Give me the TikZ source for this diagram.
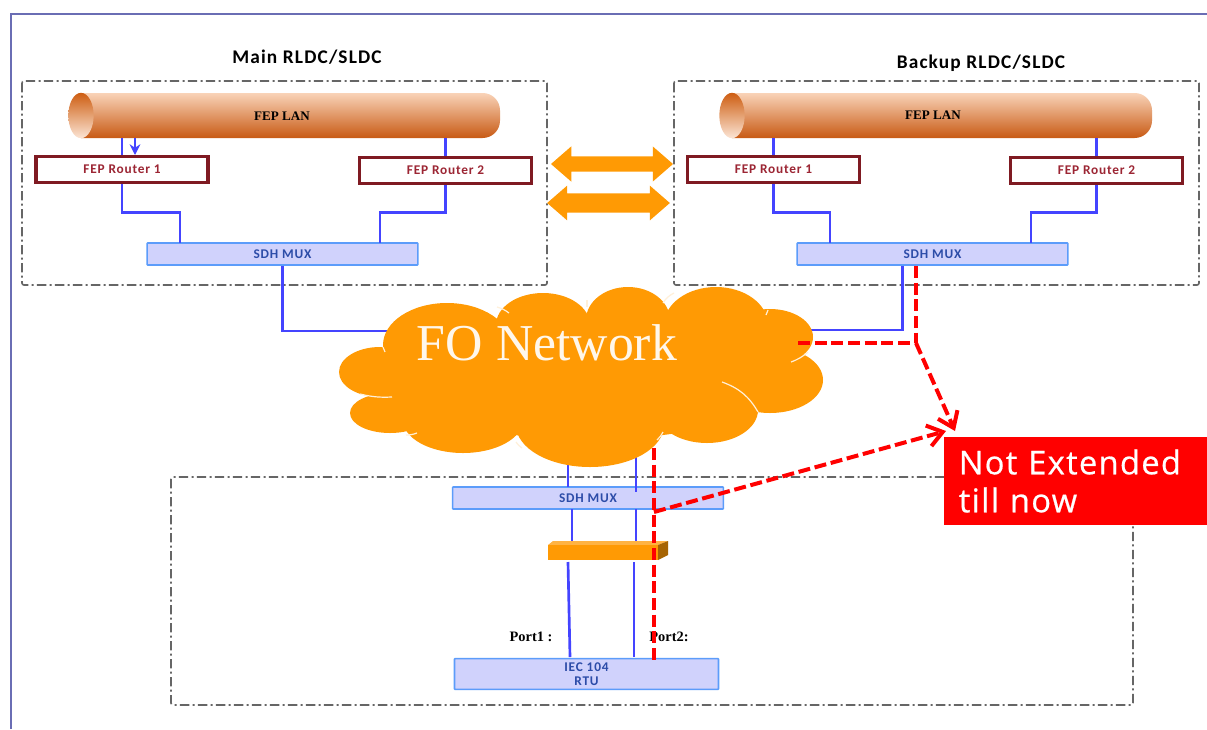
\documentclass[tikz,border=0pt]{standalone}
\usepackage{fontspec}
\setmainfont{Carlito}
\newfontfamily\serifface{Liberation Serif}
\newfontfamily\labelface[LetterSpace=4,FakeBold=0.6]{Open Sans}
\newfontfamily\spacedface[LetterSpace=6]{Carlito}
\usepackage{xcolor}
\usepackage{tikz}
\usetikzlibrary{calc}
\usetikzlibrary{arrows.meta}
\usetikzlibrary{shapes,shapes.geometric,shapes.arrows}

\definecolor{frameblue}{HTML}{6A6DB4}
\definecolor{linkblue}{HTML}{4444FF}
\definecolor{muxfill}{HTML}{D0D2FC}
\definecolor{muxline}{HTML}{5C9CFA}
\definecolor{muxtext}{HTML}{2C4CA8}
\definecolor{routerline}{HTML}{7F1A22}
\definecolor{routertext}{HTML}{9C2634}
\definecolor{foorange}{HTML}{FF9A04}
\definecolor{notered}{HTML}{FF0000}
\definecolor{pipetop}{HTML}{F9D3B8}
\definecolor{pipemid}{HTML}{EFA072}
\definecolor{pipelow}{HTML}{C85A14}

\tikzset{
  sitebox/.style={draw=black!60, line width=1.2pt, dash pattern=on 7pt off 2.5pt on 1.5pt off 2.5pt, rounded corners=1.5pt},
  routerbox/.style={rectangle, draw=routerline, line width=2.4pt, fill=white, minimum width=129pt, minimum height=19pt, inner sep=0pt, text=routertext, font=\spacedface\bfseries\fontsize{10}{12}\selectfont},
  muxbox/.style={rectangle, draw=muxline, line width=1.2pt, fill=muxfill, rounded corners=0.5pt, minimum width=203pt, minimum height=16.5pt, inner sep=0pt, text=muxtext, font=\spacedface\bfseries\fontsize{10}{12}\selectfont},
  lanpipe/.style={top color=pipetop, middle color=pipemid, bottom color=pipelow},
  lanspan/.style={rectangle, minimum height=34pt, inner sep=0pt},
  lanend/.style={ellipse, minimum width=19pt, minimum height=34pt, inner sep=0pt, top color=pipelow!90!orange, bottom color=pipetop!60!white},
  lantext/.style={inner sep=0pt, font=\serifface\bfseries\fontsize{9.8}{11}\selectfont},
  link/.style={draw=linkblue, line width=2pt},
  notelink/.style={draw=notered, line width=3.6pt, dash pattern=on 9pt off 3.5pt},
  noteray/.style={draw=notered, line width=3pt, dash pattern=on 9pt off 3.5pt, -{Straight Barb[length=11pt,width=16pt,line width=3pt]}},
  twoway/.style={double arrow, fill=foorange, double arrow tip angle=82, double arrow head indent=0pt},
  lobe/.style={fill=foorange},
  crease/.style={draw=white!85!foorange, line width=0.9pt},
  titletext/.style={font=\spacedface\bfseries\fontsize{14.5}{17}\selectfont},
  porttext/.style={font=\serifface\bfseries\fontsize{10.8}{12}\selectfont}
}

\begin{document}
\begin{tikzpicture}[x=0.75pt, y=-0.75pt]
        \useasboundingbox (0,0) rectangle (1207,729);
        \fill[white] (0,0) rectangle (1207,729);

        % Outer frame
        \draw[frameblue, line width=1.5pt] (11,729) -- (11,14) -- (1207,14);

        % Site frames
        \draw[sitebox] (22,81) rectangle (547,285);
        \draw[sitebox] (674,81) rectangle (1199,285);
        \draw[sitebox] (171,477) rectangle (1133,705);

        % Titles
        \draw (307,57) node(maintitle) [titletext] {Main RLDC/SLDC};
        \draw (981,63) node(backuptitle) [titletext] {Backup RLDC/SLDC};

        % Main site
        \shade[lanpipe] (81,93) [rounded corners=13pt] -- (500,93) -- (500,138) [sharp corners] -- (81,138) -- cycle;
        \draw (290.5,115.5) node(lanmain) [lanspan, minimum width=314pt] {};
        \draw (81,115.5) node(lanmainend) [lanend] {};
        \draw (282,116) node(lanmaintext) [lantext] {FEP LAN};
        \draw (122,169.5) node(routermaina) [routerbox] {FEP Router 1};
        \draw (445.5,170.5) node(routermainb) [routerbox] {FEP Router 2};
        \draw (282.5,254) node(muxmain) [muxbox] {SDH MUX};

        % Backup site
        \shade[lanpipe] (732,93) [rounded corners=13pt] -- (1152,93) -- (1152,138) [sharp corners] -- (732,138) -- cycle;
        \draw (942,115.5) node(lanbackup) [lanspan, minimum width=315pt] {};
        \draw (732,115.5) node(lanbackupend) [lanend] {};
        \draw (933,115) node(lanbackuptext) [lantext] {FEP LAN};
        \draw (773.5,169.5) node(routerbackupa) [routerbox] {FEP Router 1};
        \draw (1096.5,170.5) node(routerbackupb) [routerbox] {FEP Router 2};
        \draw (932.5,254) node(muxbackup) [muxbox] {SDH MUX};

        % Remote site
        \draw (588,498) node(muxsite) [muxbox] {SDH MUX};
        \draw (586.5,674) node(rtusite) [muxbox, minimum width=198pt, minimum height=23pt, align=center, font=\spacedface\bfseries\fontsize{10}{10.5}\selectfont] {IEC 104\\RTU};
        \fill[foorange!75!white] (548,545) -- (553,541) -- (668,541) -- (658,545) -- cycle;
        \fill[foorange!65!black] (658,545) -- (668,541) -- (668,555) -- (658,560) -- cycle;
        \draw (603,552.5) node(switchsite) [rectangle, fill=foorange, minimum width=82.5pt, minimum height=11pt, inner sep=0pt] {};
        \draw (531,637) node(portone) [porttext] {Port1 :};
        \draw (669,637) node(porttwo) [porttext] {Port2:};

        % Between the sites
        \draw (612,164) node(twowaya) [twoway, inner ysep=5.6pt, inner xsep=0pt, minimum height=91.5pt, double arrow head extend=7.4pt] {};
        \draw (608.5,203) node(twowayb) [twoway, inner ysep=7pt, inner xsep=0pt, minimum height=92pt, double arrow head extend=5.8pt] {};

        % Free ends
        \coordinate (mainalink) at (180,243);
        \coordinate (mainblink) at (380,243);
        \coordinate (backupalink) at (830,243);
        \coordinate (backupblink) at (1031,243);
        \coordinate (cloudwest) at (420,331);
        \coordinate (cloudeast) at (780,330);
        \coordinate (cloudporta) at (568,440);
        \coordinate (cloudportb) at (636,440);

        % Edges
        \draw[link] (routermaina.north) -- (routermaina.north |- lanmain.south);
        \draw[link] (routermainb.north) -- (routermainb.north |- lanmain.south);
        \draw[link, -{Stealth[length=8pt,width=8pt]}] (135,138) -- (135,155);
        \draw[link] (routermaina.south) -- ++(0,29) -| (mainalink);
        \draw[link] (routermainb.south) -- ++(0,28) -| (mainblink);
        \draw[link] (routerbackupa.north) -- (routerbackupa.north |- lanbackup.south);
        \draw[link] (routerbackupb.north) -- (routerbackupb.north |- lanbackup.south);
        \draw[link] (routerbackupa.south) -- ++(0,29) -| (backupalink);
        \draw[link] (routerbackupb.south) -- ++(0,28) -| (backupblink);
        \draw[link] (muxmain.south) |- (cloudwest);
        \draw[link] ($(muxbackup.south)+(-30,0)$) |- (cloudeast);
        \draw[link] (cloudporta) -- (568,487);
        \draw[link] (cloudportb) -- (636,492);
        \draw[link] (572,509) -- (572,541);
        \draw[link] (636,509) -- (636,541);
        \draw[link] (568,562) -- (570,657);
        \draw[link] (634,562) -- (634,657);

        % Cloud
        \fill[lobe] (395,355) -- (600,320) -- (790,350) -- (770,400) -- (700,430) -- (590,445) -- (440,425) -- (380,400) -- cycle;
        \fill[lobe] (447,345) ellipse (64 and 42);
        \fill[lobe] (543,325) ellipse (47 and 32);
        \fill[lobe] (628,320) ellipse (42 and 33);
        \fill[lobe] (716,325) ellipse (52 and 38);
        \fill[lobe] (770,337) ellipse (43 and 28);
        \fill[lobe] (770,380) ellipse (53 and 33);
        \fill[lobe] (707,410) ellipse (51 and 33);
        \fill[lobe] (590,425) ellipse (74 and 42);
        \fill[lobe] (463,420) ellipse (60 and 33);
        \fill[lobe] (390,413) ellipse (40 and 20);
        \fill[lobe] (380,372) ellipse (41 and 25);
        \draw[crease] (497,307) to[bend left=10] (509,313);
        \draw[crease] (587,300) -- (587,307);
        \draw[crease] (663,303) to[bend left=15] (674,293);
        \draw[crease] (768,310) -- (766,315);
        \draw[crease] (808,352) to[bend left=10] (791,362);
        \draw[crease] (722,382) to[bend left=20] (758,412);
        \draw[crease] (663,432) to[bend left=10] (657,440);
        \draw[crease] (516,442) to[bend right=10] (522,448);
        \draw[crease] (406,435) to[bend right=10] (417,433);
        \draw[crease] (360,394) to[bend right=8] (392,397);
        \draw[crease] (383,347) -- (385,352);
        \draw (547,343) node(fonetwork) [text=white!92!foorange, font=\serifface\fontsize{38.8}{42}\selectfont] {FO Network};

        % Note
        \draw (1075.5,481) node(notelabel) [rectangle, fill=notered, text=white, minimum width=197.5pt, minimum height=66pt, inner sep=0pt, text width=175pt, align=left, font=\labelface\fontsize{24.5}{28.5}\selectfont] {Not Extended\\till now};
        \coordinate (notetipa) at (955,431);
        \coordinate (notetipb) at (946,431);
        \coordinate (backupjoin) at (916,343);
        \coordinate (sitejoin) at (654,512);

        % Red edges
        \draw[notelink] (916,266) -- (backupjoin);
        \draw[notelink] (798,343) -- (backupjoin);
        \draw[noteray] (backupjoin) -- (notetipa);
        \draw[notelink] (654,448) -- (654,661);
        \draw[noteray] (sitejoin) -- (notetipb);

      \end{tikzpicture}
\end{document}
